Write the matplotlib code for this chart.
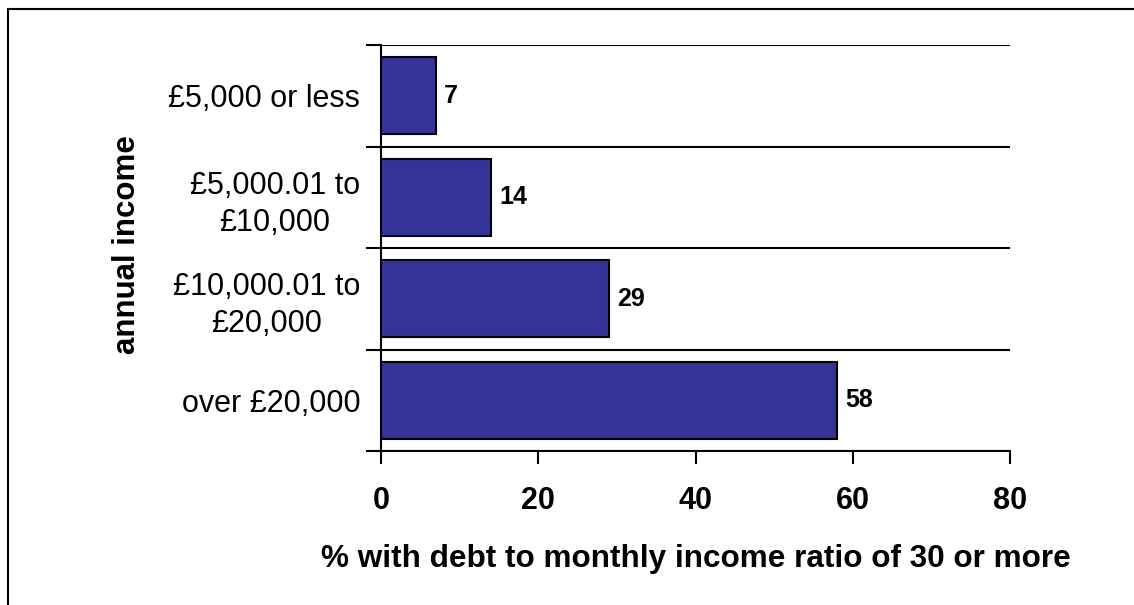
import matplotlib
matplotlib.use("Agg")
import matplotlib.pyplot as plt
from matplotlib.lines import Line2D
import numpy as np

categories = ["£5,000 or less", "£5,000.01 to\n£10,000", "£10,000.01 to\n£20,000", "over £20,000"]
values = [7, 14, 29, 58]
xticks = [0, 20, 40, 60, 80]

plt.rcParams['font.family'] = ['Liberation Sans', 'DejaVu Sans']

W, H = 1134, 605
fig = plt.figure(figsize=(W/100, H/100), dpi=100)
fig.patch.set_facecolor('white')

# outer frame (left and top edges visible)
fig.add_artist(Line2D([8/W, 8/W], [0, 1-9/H], color='black', lw=1.5, transform=fig.transFigure))
fig.add_artist(Line2D([8/W, 1], [1-9/H, 1-9/H], color='black', lw=1.5, transform=fig.transFigure))

left, right, top, bottom = 381/W, 1010/W, 1-45/H, 1-451/H
ax = fig.add_axes([left, bottom, right-left, top-bottom])

y = np.arange(len(categories))
ax.barh(y, values, height=0.76, color='#333399', edgecolor='black', linewidth=1.5, zorder=3)
ax.set_ylim(len(categories)-0.5, -0.5)
ax.set_xlim(0, 80)

for yi, v in zip(y, values):
    ax.text(v + 1.0, yi, str(v), va='center', ha='left', fontsize=18, fontweight='bold', zorder=4)

# boundaries as major ticks (gridlines), centers as minor ticks (labels)
bounds = np.arange(len(categories)+1) - 0.5
ax.set_yticks(bounds)
ax.set_yticklabels([])
ax.set_yticks(y, minor=True)
ax.set_yticklabels(categories, minor=True, fontsize=22, ha='right', multialignment='center',
                   linespacing=1.3)
ax.tick_params(axis='y', which='minor', length=0, pad=15)
ax.tick_params(axis='y', which='major', length=11, width=1.5, direction='out')
ax.yaxis.grid(True, which='major', color='black', lw=1.5, zorder=0)

ax.set_xticks(xticks)
ax.set_xticklabels([str(t) for t in xticks], fontsize=22, fontweight='bold')
ax.tick_params(axis='x', length=9, width=1.5, direction='out', pad=16)

for s in ['top', 'right']:
    ax.spines[s].set_visible(False)
for s in ['left', 'bottom']:
    ax.spines[s].set_linewidth(1.5)

ax.set_xlabel("% with debt to monthly income ratio of 30 or more", fontsize=22.7, fontweight='bold', labelpad=20)
fig.text(127/W, 1-245/H, "annual income", rotation=90, fontsize=22.5, fontweight='bold', ha='center', va='center')

fig.savefig("out.png", dpi=100)
